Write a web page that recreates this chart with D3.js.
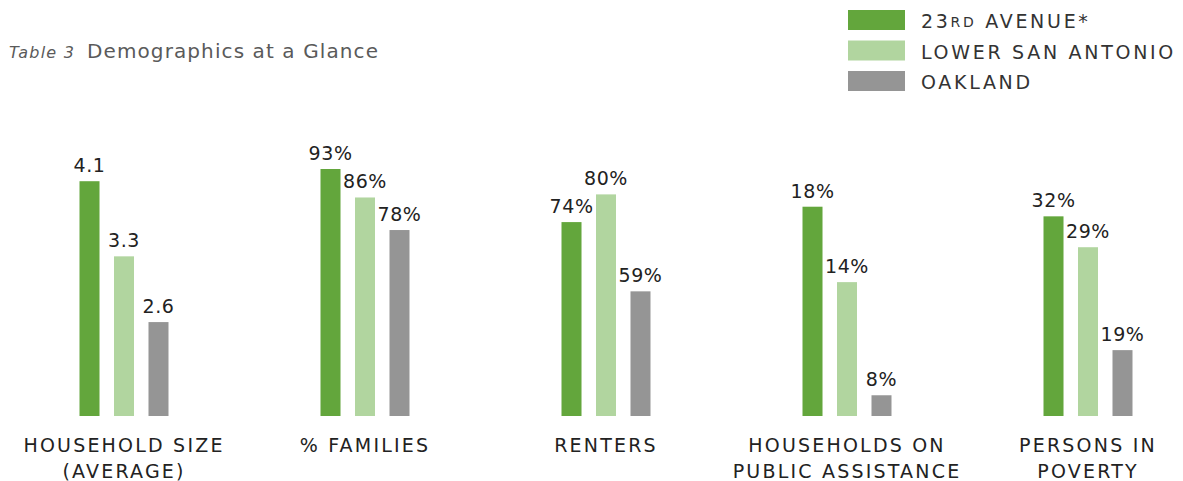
<!DOCTYPE html>
<html>
<head>
<meta charset="utf-8">
<script src="https://cdn.jsdelivr.net/npm/d3@7"></script>
<style>
  body { margin: 0; background: #fff; }
  svg { display: block; font-family: "DejaVu Sans", sans-serif; }
</style>
</head>
<body>
<div id="chart"></div>
<script>
// categories and series
const categories = ['HOUSEHOLD SIZE|(AVERAGE)', '% FAMILIES', 'RENTERS', 'HOUSEHOLDS ON|PUBLIC ASSISTANCE', 'PERSONS IN|POVERTY'];
const series = ['23RD AVENUE*', 'LOWER SAN ANTONIO', 'OAKLAND'];
const avenue23 = [4.1, 93, 74, 18, 32];
const lowerSanAntonio = [3.3, 86, 80, 14, 29];
const oakland = [2.6, 78, 59, 8, 19];
const valueLabels = [
  ['4.1', '3.3', '2.6'],
  ['93%', '86%', '78%'],
  ['74%', '80%', '59%'],
  ['18%', '14%', '8%'],
  ['32%', '29%', '19%']
];
// each group in the original has its own (truncated) value axis
const groupDomains = [[1.6, 4.23], [32.3, 93], [32, 85.5], [6.9, 20], [12.6, 36.6]];

const colors = ['#63a63c', '#b1d59f', '#959595'];
const width = 1183, height = 481;
const baseY = 416, topY = 169;

const svg = d3.select('#chart').append('svg')
  .attr('width', width)
  .attr('height', height);

// title
const title = svg.append('text').attr('x', 9).attr('y', 58).attr('fill', '#5a5a5a');
title.append('tspan').attr('font-style', 'italic').attr('font-size', 16)
  .attr('letter-spacing', 1.2).text('Table 3');
title.append('tspan').attr('dx', 12).attr('font-size', 20)
  .attr('letter-spacing', 1.1).text('Demographics at a Glance');

// legend
const legend = svg.append('g');
series.forEach((s, i) => {
  const row = legend.append('g').attr('transform', `translate(848,${10 + i * 30.5})`);
  row.append('rect').attr('width', 57).attr('height', 20).attr('fill', colors[i]);
  const t = row.append('text').attr('x', 73).attr('y', 18).attr('fill', '#333')
    .attr('font-size', 19).attr('letter-spacing', 2.7);
  if (i === 0) {
    t.append('tspan').text('23');
    t.append('tspan').attr('font-size', 14).attr('dy', -1).text('RD');
    t.append('tspan').attr('dy', 1).text(' AVENUE*');
  } else {
    t.text(s);
  }
});

const x0 = d3.scalePoint()
  .domain(categories)
  .range([124, 1088]);

const x1 = d3.scaleBand()
  .domain(series)
  .range([-44.5, 44.5])
  .paddingInner(0.42);

const rows = categories.map((c, i) => ({
  cat: c,
  y: d3.scaleLinear().domain(groupDomains[i]).range([baseY, topY]),
  vals: [avenue23[i], lowerSanAntonio[i], oakland[i]],
  labels: valueLabels[i]
}));

const groups = svg.selectAll('.group')
  .data(rows)
  .enter()
  .append('g')
  .attr('class', 'group')
  .attr('transform', d => `translate(${x0(d.cat)},0)`);

groups.each(function (d) {
  const g = d3.select(this);
  const items = d.vals.map((v, j) => ({ v, s: series[j], label: d.labels[j], color: colors[j] }));

  g.selectAll('rect')
    .data(items)
    .enter()
    .append('rect')
    .attr('x', e => x1(e.s))
    .attr('width', x1.bandwidth())
    .attr('y', e => d.y(e.v))
    .attr('height', e => baseY - d.y(e.v))
    .attr('fill', e => e.color);

  g.selectAll('.val')
    .data(items)
    .enter()
    .append('text')
    .attr('class', 'val')
    .attr('x', e => x1(e.s) + x1.bandwidth() / 2)
    .attr('y', e => d.y(e.v) - 9)
    .attr('text-anchor', 'middle')
    .attr('font-size', 19)
    .attr('letter-spacing', 0.6)
    .attr('fill', '#222')
    .text(e => e.label);

  const lines = d.cat.split('|');
  const lab = g.append('text')
    .attr('text-anchor', 'middle')
    .attr('font-size', 19)
    .attr('letter-spacing', 2.2)
    .attr('fill', '#222');
  lines.forEach((l, k) => {
    lab.append('tspan').attr('x', 0).attr('y', 452 + k * 26).text(l);
  });
});
</script>
</body>
</html>
